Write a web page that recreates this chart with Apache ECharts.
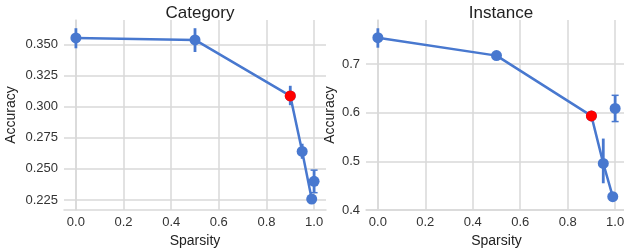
<!DOCTYPE html>
<html>
<head>
<meta charset="utf-8">
<script src="https://cdn.jsdelivr.net/npm/echarts@6/dist/echarts.min.js"></script>
<style>
  html, body { margin: 0; padding: 0; background: #fff; }
  #chart { width: 624px; height: 250px; }
</style>
</head>
<body>
<div id="chart"></div>
<script>
// sparsity levels on the line
var sparsity = [0.0, 0.5, 0.9, 0.95, 0.99];
// Category panel
var catAcc = [0.3551, 0.3535, 0.3086, 0.2640, 0.2258];
var catLow = [0.3468, 0.3438, 0.3011, 0.2581, 0.2245];
var catHigh = [0.3629, 0.3629, 0.3167, 0.2702, 0.2275];
var catDense = [1.0, 0.2400, 0.2309, 0.2490]; // x, mean, low, high
// Instance panel
var insAcc = [0.7547, 0.7177, 0.5936, 0.4959, 0.4274];
var insLow = [0.734, 0.709, 0.588, 0.455, 0.420];
var insHigh = [0.774, 0.726, 0.600, 0.547, 0.432];
var insDense = [1.0, 0.6090, 0.582, 0.636];
var highlightIdx = 2; // red point (0.9)

var xTicks = [0, 0.2, 0.4, 0.6, 0.8, 1.0];
var catTicks = [0.225, 0.25, 0.275, 0.3, 0.325, 0.35];
var insTicks = [0.4, 0.5, 0.6, 0.7];

var blue = '#4878cf';
var gridCol = '#d9d9d9';
var font = 'Liberation Sans, Arial, sans-serif';

var chart = echarts.init(document.getElementById('chart'));

function pairs(xs, ys) {
  return xs.map(function (x, i) { return [x, ys[i]]; });
}

function errData(xs, lo, hi) {
  return xs.map(function (x, i) { return [x, lo[i], hi[i]]; });
}

// vertical error bar, optional caps
function errRender(cap) {
  return function (params, api) {
    var p1 = api.coord([api.value(0), api.value(1)]);
    var p2 = api.coord([api.value(0), api.value(2)]);
    var children = [{
      type: 'line',
      shape: { x1: p1[0], y1: p1[1], x2: p2[0], y2: p2[1] },
      style: { stroke: blue, lineWidth: 2.8 }
    }];
    if (cap) {
      [p1, p2].forEach(function (p) {
        children.push({
          type: 'line',
          shape: { x1: p[0] - 3.5, y1: p[1], x2: p[0] + 3.5, y2: p[1] },
          style: { stroke: blue, lineWidth: 1.5 }
        });
      });
    }
    return { type: 'group', children: children };
  };
}

function xAxis(idx) {
  return {
    type: 'value', gridIndex: idx, min: -0.05, max: 1.05,
    name: 'Sparsity', nameLocation: 'middle', nameGap: 23,
    nameTextStyle: { fontSize: 14, color: '#222', fontFamily: font },
    axisLine: { show: true, lineStyle: { color: gridCol, width: 1.5 } },
    axisTick: { show: false, customValues: xTicks },
    axisLabel: {
      customValues: xTicks, fontSize: 13, color: '#333', fontFamily: font, margin: 6,
      formatter: function (v) { return v.toFixed(1); }
    },
    splitLine: { show: true, lineStyle: { color: gridCol, width: 1.5 } }
  };
}

function yAxis(idx, min, max, ticks, digits, gap) {
  return {
    type: 'value', gridIndex: idx, min: min, max: max,
    name: 'Accuracy', nameLocation: 'middle', nameGap: gap,
    nameTextStyle: { fontSize: 14, color: '#222', fontFamily: font },
    axisLine: { show: true, lineStyle: { color: gridCol, width: 1.5 } },
    axisTick: { show: false, customValues: ticks },
    axisLabel: {
      customValues: ticks, fontSize: 13, color: '#333', fontFamily: font, margin: 6,
      formatter: function (v) { return v.toFixed(digits); }
    },
    splitLine: { show: true, lineStyle: { color: gridCol, width: 1.5 } }
  };
}

function panelSeries(idx, acc, lo, hi, dense) {
  return [
    {
      type: 'custom', xAxisIndex: idx, yAxisIndex: idx, z: 2,
      renderItem: errRender(false), data: errData(sparsity, lo, hi)
    },
    {
      type: 'custom', xAxisIndex: idx, yAxisIndex: idx, z: 2,
      renderItem: errRender(true), data: [[dense[0], dense[2], dense[3]]]
    },
    {
      type: 'line', xAxisIndex: idx, yAxisIndex: idx, z: 3,
      data: pairs(sparsity, acc), symbol: 'circle', symbolSize: 11,
      lineStyle: { color: blue, width: 2.5 }, itemStyle: { color: blue }
    },
    {
      type: 'scatter', xAxisIndex: idx, yAxisIndex: idx, z: 3,
      data: [[dense[0], dense[1]]], symbolSize: 11,
      itemStyle: { color: blue, opacity: 1 }
    },
    {
      type: 'scatter', xAxisIndex: idx, yAxisIndex: idx, z: 4,
      data: [[sparsity[highlightIdx], acc[highlightIdx]]], symbolSize: 11,
      itemStyle: { color: '#ff0000', opacity: 1 }
    }
  ];
}

var option = {
  animation: false,
  backgroundColor: '#fff',
  title: [
    { text: 'Category', left: 195, top: 0, textAlign: 'center',
      textStyle: { fontSize: 17, fontWeight: 'normal', color: '#222', fontFamily: font } },
    { text: 'Instance', left: 496, top: 0, textAlign: 'center',
      textStyle: { fontSize: 17, fontWeight: 'normal', color: '#222', fontFamily: font } }
  ],
  grid: [
    { left: 64, top: 20, width: 262, height: 190, outerBoundsMode: 'none', containLabel: false },
    { left: 366, top: 20, width: 261, height: 190, outerBoundsMode: 'none', containLabel: false }
  ],
  xAxis: [xAxis(0), xAxis(1)],
  yAxis: [
    yAxis(0, 0.217, 0.3695, catTicks, 3, 46),
    yAxis(1, 0.4, 0.791, insTicks, 1, 29)
  ],
  series: panelSeries(0, catAcc, catLow, catHigh, catDense)
    .concat(panelSeries(1, insAcc, insLow, insHigh, insDense))
};

chart.setOption(option);
</script>
</body>
</html>
